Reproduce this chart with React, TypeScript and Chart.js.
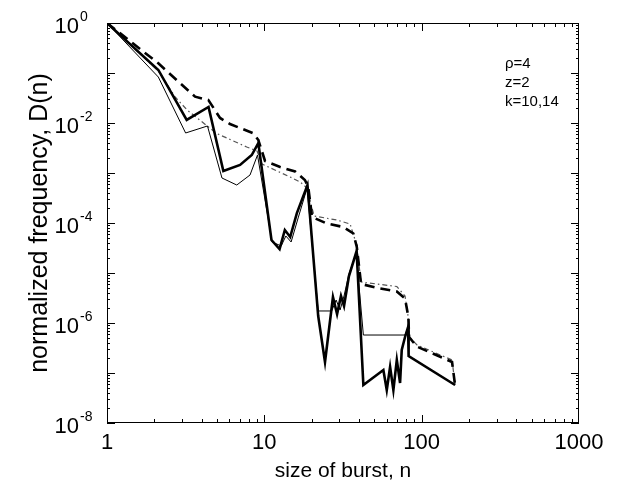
import React, { useEffect, useRef } from "react";
import { Chart, registerables } from "chart.js";

Chart.register(...registerables);

const FONT = '"Liberation Sans", Arial, Helvetica, sans-serif';

const xTickValues = [1, 10, 100, 1000];
const yExponents = [0, -2, -4, -6, -8];
const annotationLines = ["ρ=4", "z=2", "k=10,14"];
const xTitle = "size of burst, n";
const yTitle = "normalized frequency, D(n)";

// thick solid
const thickSolidN = [1, 2.12, 3.21, 4.42, 5.49, 7.01, 8.32, 9.16, 11.1, 12.5, 13.5, 14.6, 16.1, 18.8, 22.0, 24.3, 27.3, 29.0, 30.7, 32.1, 34.5, 38.6, 42.6, 57.1, 60.0, 63.0, 66.1, 69.5, 72.9, 74.7, 78.4, 82.0, 82.6, 163];
const thickSolidD = [1, 0.115, 0.0115, 0.0209, 1.10e-3, 1.45e-3, 2.29e-3, 3.98e-3, 4.57e-5, 3.02e-5, 7.24e-5, 5.25e-5, 1.58e-4, 5.75e-4, 1.38e-6, 1.66e-7, 3.31e-6, 1.51e-6, 3.47e-6, 2.19e-6, 8.71e-6, 2.75e-5, 5.75e-8, 1.15e-7, 4.57e-8, 1.32e-7, 4.57e-8, 1.82e-7, 6.31e-8, 2.88e-7, 5.25e-7, 8.32e-7, 2.19e-7, 5.75e-8];

// thin solid
const thinSolidN = [1, 2.12, 3.16, 4.35, 5.38, 6.68, 8.11, 9.05, 11.2, 12.8, 13.7, 14.8, 16.4, 18.7, 22.0, 26.8, 28.6, 30.3, 32.1, 34.5, 38.3, 42.6, 78.4, 82.0, 82.6, 163];
const thinSolidD = [1, 0.083, 6.31e-3, 8.71e-3, 7.94e-4, 5.75e-4, 9.12e-4, 2.29e-3, 4.17e-5, 3.47e-5, 5.50e-5, 4.17e-5, 1.26e-4, 5.01e-4, 1.74e-6, 1.74e-6, 2.88e-6, 1.82e-6, 3.47e-6, 9.55e-6, 2.51e-5, 5.75e-7, 5.75e-7, 8.32e-7, 2.19e-7, 5.75e-8];

// thick dashed
const thickDashN = [1, 2.12, 2.77, 3.63, 4.41, 5.23, 6.05, 8.51, 9.16, 10.1, 12.6, 15.7, 18.1, 19.0, 20.1, 24.9, 31.8, 36.8, 38.7, 41.2, 52.8, 69.5, 78.4, 82.3, 83.2, 93.1, 156, 163];
const thickDashD = [1, 0.156, 0.0724, 0.0336, 0.0288, 0.0126, 9.55e-3, 6.22e-3, 4.57e-3, 1.74e-3, 1.32e-3, 1.07e-3, 7.24e-4, 5.37e-4, 1.32e-4, 9.77e-5, 8.32e-5, 6.17e-5, 3.31e-5, 6.03e-6, 5.01e-6, 4.27e-6, 3.09e-6, 1.32e-6, 5.25e-7, 3.39e-7, 1.66e-7, 5.75e-8];

// thin dotted
const thinDotN = [1, 2.12, 2.71, 3.23, 4.98, 7.73, 8.99, 9.67, 14.6, 16.9, 18.7, 20.7, 28.8, 35.1, 38.6, 41.2, 69.5, 78.4, 82.3, 83.2, 93.5, 156, 163];
const thinDotD = [1, 0.11, 0.0331, 0.0182, 6.17e-3, 3.31e-3, 2.75e-3, 1.51e-3, 8.32e-4, 6.61e-4, 5.01e-4, 1.38e-4, 1.15e-4, 9.55e-5, 3.63e-5, 6.61e-6, 5.37e-6, 3.47e-6, 1.26e-6, 5.25e-7, 3.63e-7, 1.82e-7, 5.75e-8];

function pts(n: number[], d: number[]) {
  return n.map((v, i) => ({ x: v, y: d[i] }));
}

const framePlugin = {
  id: "frame",
  afterDraw(chart: any) {
    const { ctx, chartArea } = chart;
    const { left, right, top, bottom } = chartArea;
    const xs = chart.scales.x;
    const ys = chart.scales.y;
    ctx.save();
    ctx.strokeStyle = "#000";
    ctx.lineWidth = 1;
    ctx.setLineDash([]);
    ctx.strokeRect(left + 0.5, top + 0.5, right - left - 1, bottom - top - 1);
    ctx.beginPath();
    // x ticks (inward, top and bottom)
    for (let d = 1; d <= 100; d *= 10) {
      for (let m = 1; m <= 9; m++) {
        const px = Math.round(xs.getPixelForValue(m * d)) + 0.5;
        const len = m === 1 ? 8 : 4;
        ctx.moveTo(px, bottom);
        ctx.lineTo(px, bottom - len);
        ctx.moveTo(px, top);
        ctx.lineTo(px, top + len);
      }
    }
    // y ticks (inward, left and right)
    for (let e = 0; e >= -8; e--) {
      for (let m = 1; m <= 9; m++) {
        if (e === 0 && m > 1) break;
        const v = m * Math.pow(10, e);
        const py = Math.round(ys.getPixelForValue(v)) + 0.5;
        const len = m === 1 ? 8 : 3;
        ctx.moveTo(left, py);
        ctx.lineTo(left + len, py);
        ctx.moveTo(right, py);
        ctx.lineTo(right - len, py);
      }
    }
    ctx.stroke();

    // y tick labels 10^e
    ctx.fillStyle = "#000";
    for (const e of yExponents) {
      const py = ys.getPixelForValue(Math.pow(10, e));
      ctx.font = `22px ${FONT}`;
      ctx.textAlign = "right";
      ctx.textBaseline = "middle";
      ctx.fillText("10", 79, py + 4);
      ctx.font = `14px ${FONT}`;
      ctx.textAlign = "left";
      ctx.fillText(e === 0 ? "0" : "-" + String(-e), 80, py - 6);
    }

    // annotation
    ctx.font = `15px ${FONT}`;
    ctx.textAlign = "left";
    ctx.textBaseline = "alphabetic";
    const baselines = [68, 87, 106];
    annotationLines.forEach((t, i) => ctx.fillText(t, 505, baselines[i]));
    ctx.restore();
  },
};

export default function App() {
  const ref = useRef<HTMLCanvasElement>(null);
  useEffect(() => {
    const canvas = ref.current!;
    const chart = new Chart(canvas, {
      type: "line",
      data: {
        datasets: [
          {
            data: pts(thinDotN, thinDotD),
            borderColor: "#555",
            borderWidth: 1.2,
            borderDash: [5, 3, 1.5, 3],
            pointRadius: 0,
            tension: 0,
            order: 4,
          },
          {
            data: pts(thickDashN, thickDashD),
            borderColor: "#000",
            borderWidth: 2.6,
            borderDash: [10, 6],
            pointRadius: 0,
            tension: 0,
            order: 3,
          },
          {
            data: pts(thinSolidN, thinSolidD),
            borderColor: "#000",
            borderWidth: 1,
            pointRadius: 0,
            tension: 0,
            order: 2,
          },
          {
            data: pts(thickSolidN, thickSolidD),
            borderColor: "#000",
            borderWidth: 2.6,
            pointRadius: 0,
            tension: 0,
            order: 1,
          },
        ] as any,
      },
      options: {
        animation: false,
        responsive: false,
        layout: { padding: { top: 23, right: 47, left: 0, bottom: 0 } },
        plugins: {
          legend: { display: false },
          tooltip: { enabled: false },
        },
        scales: {
          x: {
            type: "logarithmic",
            min: 1,
            max: 1000,
            position: "bottom",
            afterBuildTicks: (s: any) => {
              s.ticks = xTickValues.map((v) => ({ value: v }));
            },
            afterFit: (s: any) => {
              s.height = 65;
            },
            grid: { display: false, drawTicks: false },
            border: { display: false },
            ticks: {
              color: "#000",
              font: { family: FONT, size: 22 },
              padding: 7,
              maxRotation: 0,
              autoSkip: false,
              callback: (v: any) => String(v),
            },
            title: {
              display: true,
              text: xTitle,
              color: "#000",
              font: { family: FONT, size: 21 },
              padding: { top: 0, bottom: 4 },
            },
          },
          y: {
            type: "logarithmic",
            min: 1e-8,
            max: 1,
            position: "left",
            afterBuildTicks: (s: any) => {
              s.ticks = yExponents.map((e) => ({ value: Math.pow(10, e) }));
            },
            afterFit: (s: any) => {
              s.width = 107;
            },
            grid: { display: false, drawTicks: false },
            border: { display: false },
            ticks: { display: false },
            title: {
              display: true,
              text: yTitle,
              color: "#000",
              font: { family: FONT, size: 25 },
              padding: { top: 25, bottom: 0 },
            },
          },
        },
      } as any,
      plugins: [framePlugin],
    });
    return () => chart.destroy();
  }, []);
  return (
    <div style={{ position: "absolute", left: 0, top: 0, width: 626, height: 488, background: "#fff" }}>
      <canvas ref={ref} width={626} height={488} style={{ display: "block", width: 626, height: 488 }} />
    </div>
  );
}
